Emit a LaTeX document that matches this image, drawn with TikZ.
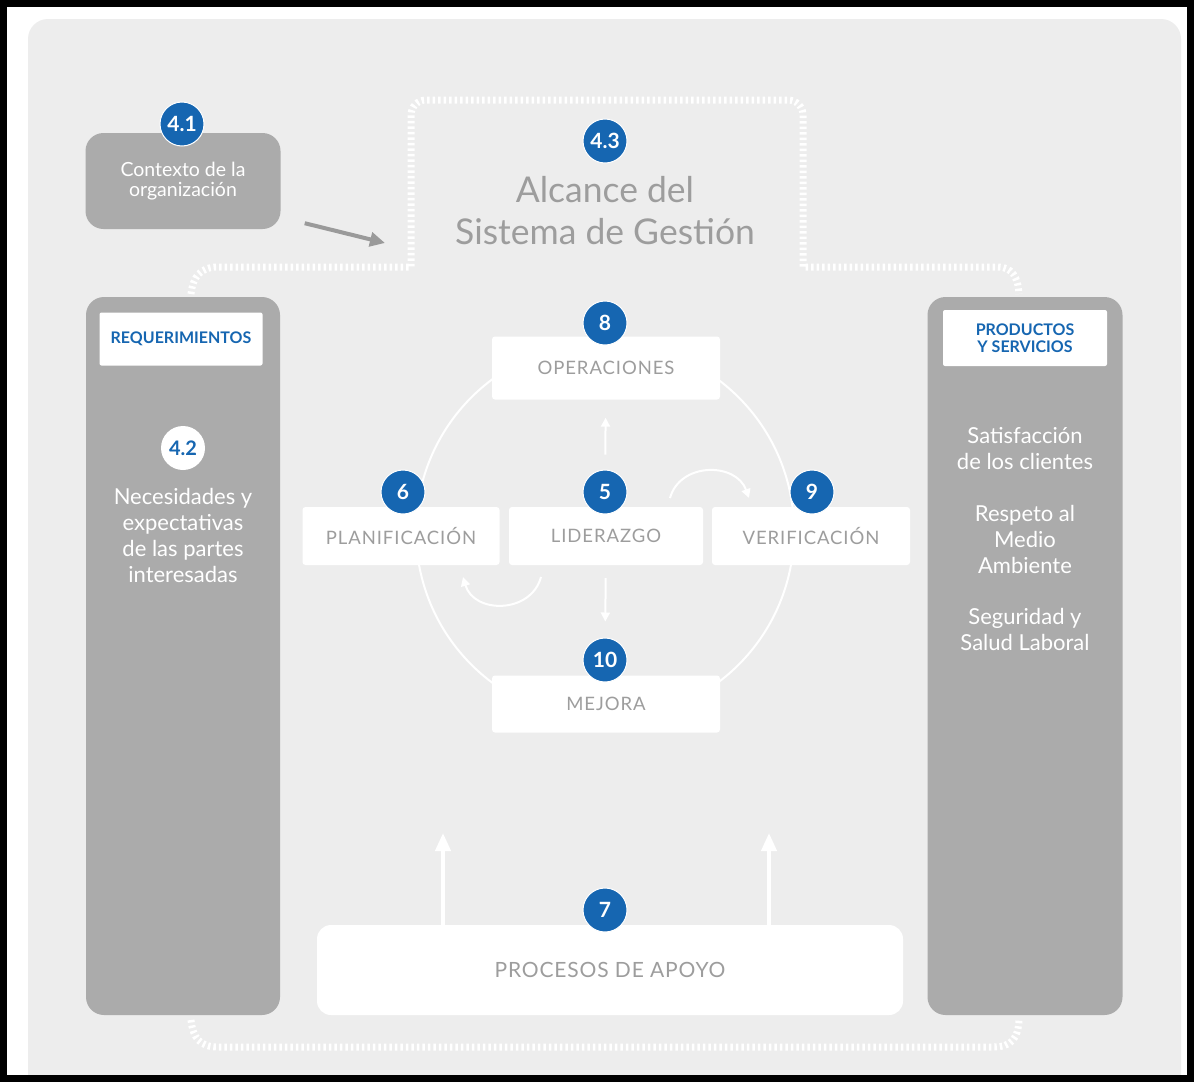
\documentclass[tikz,border=0pt]{standalone}
\usepackage{fontspec}
\setmainfont{Lato}
\usetikzlibrary{arrows.meta,positioning}

\definecolor{panel}{HTML}{EDEDED}
\definecolor{colgray}{HTML}{ABABAB}
\definecolor{isoblue}{HTML}{1666B1}
\definecolor{txtgray}{HTML}{9D9D9D}
\definecolor{arrgray}{HTML}{9A9A9A}

\tikzset{
  num/.style={circle, fill=isoblue, draw=white, line width=1pt, minimum size=44pt, inner sep=0pt,
    text=white, font=\fontsize{21}{21}\selectfont\bfseries},
  stepbox/.style={fill=white, rounded corners=3pt, inner sep=0pt, text=txtgray,
    font=\fontsize{18.5}{18.5}\selectfont\addfontfeature{LetterSpace=5}},
  column/.style={fill=colgray, rounded corners=18pt, inner sep=0pt},
  labbox/.style={fill=white, rounded corners=2pt, inner sep=0pt, text=isoblue, align=center,
    font=\fontsize{16}{17}\selectfont\bfseries},
  coltext/.style={text=white, align=center, font=\fontsize{22}{26}\selectfont},
  dots/.style={white, line width=7pt, dash pattern=on 2.5pt off 3pt},
  flow/.style={white, line width=2pt, -{Triangle[length=9pt,width=9pt]}},
  bigflow/.style={white, line width=4pt, -{Triangle[length=18pt,width=15pt]}},
}

\begin{document}
\begin{tikzpicture}[x=1pt,y=-1pt]
\useasboundingbox (0,0) rectangle (1194,1082);
% background panel
\fill[white] (0,0) rectangle (1194,1082);
\fill[panel] (28,1082) {[rounded corners=20pt] -- (28,19) -- (1181,19)} -- (1181,1082) -- cycle;

% dotted scope line
\draw[dots] (191,294) .. controls (193,277) and (200,267) .. (218,267) -- (411,267)
  {[rounded corners=15pt] -- (411,100) -- (803,100)} -- (803,267) -- (998,267)
  .. controls (1012,267) and (1018,277) .. (1019,294);
\draw[dots] (191,1020) .. controls (193,1038) and (200,1047) .. (218,1047) -- (993,1047)
  .. controls (1012,1047) and (1018,1038) .. (1019,1020);

% context box
\node[column, minimum width=195pt, minimum height=96pt, coltext, font=\fontsize{19.5}{20}\selectfont] (ctx) at (183,181) {Contexto de la\\organización};
\node[text=txtgray, align=center, font=\fontsize{35.5}{42}\selectfont] (alc) at (605,211) {Alcance del\\Sistema de Gestión};
\coordinate (alcin) at (385,243);
\draw[arrgray, line width=4pt, -{Triangle[length=15pt,width=14pt]}] (ctx.south east) ++(24,-6) coordinate (ctxout) (ctxout) -- (alcin);

% columns left and right
\node[column, minimum width=194pt, minimum height=718pt] (req) at (183,656) {};
\node[labbox, minimum width=163pt, minimum height=53pt] (reqlab) at (181,339) {REQUERIMIENTOS};
\node[circle, fill=white, minimum size=44pt, inner sep=0pt, text=isoblue, font=\fontsize{20}{20}\selectfont\bfseries] (c42) at (183,448) {4.2};
\node[coltext] (nec) at (183,535) {Necesidades y\\expectativas\\de las partes\\interesadas};

\node[column, minimum width=195pt, minimum height=718pt] (pro) at (1025,656) {};
\node[labbox, minimum width=164pt, minimum height=56pt] (prolab) at (1025,338) {PRODUCTOS\\Y SERVICIOS};
\node[coltext] (sat) at (1025,449) {Satisfacción\\de los clientes};
\node[coltext] (res) at (1025,539) {Respeto al\\Medio\\Ambiente};
\node[coltext] (seg) at (1025,629) {Seguridad y\\Salud Laboral};

% the cycle
\draw[white, line width=2pt] (605,531) circle (189);
\node[stepbox, minimum width=228pt, minimum height=63pt] (ope) at (606,368) {OPERACIONES};
\node[stepbox, minimum width=197pt, minimum height=58pt] (pla) at (401,536) {PLANIFICACIÓN};
\node[stepbox, minimum width=194pt, minimum height=58pt] (lid) at (606,536) {LIDERAZGO};
\node[stepbox, minimum width=198pt, minimum height=58pt] (ver) at (811,536) {VERIFICACIÓN};
\node[stepbox, minimum width=228pt, minimum height=57pt] (mej) at (606,704) {MEJORA};
\node[stepbox, rounded corners=14pt, minimum width=586pt, minimum height=90pt,
  font=\fontsize{21}{21}\selectfont\addfontfeature{LetterSpace=4}] (apo) at (610,970) {PROCESOS DE APOYO};

% blue numbers
\foreach \nm/\t/\x/\y in {c41/4.1/182/124, c43/4.3/605/141, c8/8/605/323, c6/6/403/492,
  c5/5/605/492, c9/9/812/492, c10/10/605/660, c7/7/605/910}
  \node[num] (\nm) at (\x,\y) {\t};

% arrows inside the cycle
\draw[flow, shorten <=15pt, shorten >=18pt] (c5) -- (ope);
\draw[flow, shorten <=13pt, shorten >=16pt] (lid) -- (c10);
\coordinate (r1) at (670,498);
\coordinate (r2) at (749,498);
\draw[flow] (r1) .. controls (680,462) and (736,462) .. (r2);
\coordinate (l1) at (541,577);
\coordinate (l2) at (463,577);
\draw[flow] (l1) .. controls (531,614) and (474,614) .. (l2);

% support arrows
\coordinate (u1) at (443,833);
\coordinate (u2) at (769,833);
\draw[bigflow] (u1 |- apo.north) -- (u1);
\draw[bigflow] (u2 |- apo.north) -- (u2);

% frame
\draw[black, line width=7pt] (3.5,3.5) rectangle (1190.5,1078.5);
\end{tikzpicture}
\end{document}
